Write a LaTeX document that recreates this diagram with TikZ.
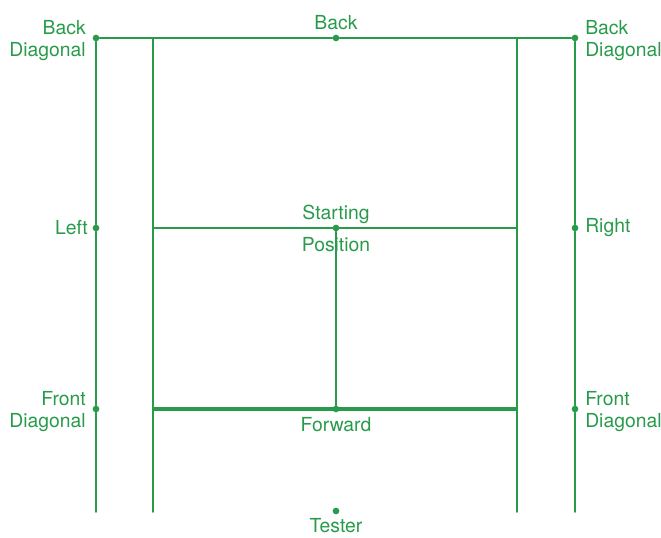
\documentclass[tikz,border=0pt]{standalone}
\usepackage{fontspec}
\setmainfont{TeX Gyre Heros}
\definecolor{fieldgreen}{RGB}{40,155,75}
\tikzset{
  spot/.style={circle, fill=fieldgreen, inner sep=0pt, minimum size=5pt},
  tag/.style={text=fieldgreen, font=\fontsize{14.5pt}{16.5pt}\selectfont, inner sep=0pt},
  lane/.style={draw=fieldgreen, line width=1.2pt},
}
\begin{document}
\begin{tikzpicture}[x=0.75pt, y=0.75pt, line cap=round, line join=round]
    \useasboundingbox (0,0) rectangle (661,537);
    % points on the lines
    \node[spot] (bdl) at (96,499) {};
    \node[spot] (bk)  at (336,499) {};
    \node[spot] (bdr) at (575,499) {};
    \node[spot] (lf)  at (96,309) {};
    \node[spot] (sp)  at (336,309) {};
    \node[spot] (rt)  at (575,309) {};
    \node[spot] (fdl) at (96,128) {};
    \node[spot] (fw)  at (336,128) {};
    \node[spot] (fdr) at (575,128) {};
    \node[spot] (ts)  at (336,26) {};
    \coordinate (ilt) at (153,499);  \coordinate (irt) at (517,499);
    \coordinate (ilm) at (153,309);  \coordinate (irm) at (517,309);
    \coordinate (ilf) at (153,128);  \coordinate (irf) at (517,128);
    \coordinate (olb) at (96,25);    \coordinate (orb) at (575,25);
    \coordinate (ilb) at (153,25);   \coordinate (irb) at (517,25);
    % lines
    \draw[lane] (bdl) -- (bk) -- (bdr);
    \draw[lane] (bdl) -- (lf) -- (fdl) -- (olb);
    \draw[lane] (bdr) -- (rt) -- (fdr) -- (orb);
    \draw[lane] (ilt) -- (ilb);
    \draw[lane] (irt) -- (irb);
    \draw[lane] (ilm) -- (sp) -- (irm);
    \draw[lane] (sp) -- (fw);
    \draw[lane, line width=2.3pt, line cap=butt] (ilf) -- (irf);
    % labels
    \node[tag, anchor=base] (bktxt) at (336,508) {Back};
    \node[tag, anchor=east, align=right] (bdltxt) at (86,496) {Back\\Diagonal};
    \node[tag, anchor=west, align=left] (bdrtxt) at (585,496) {Back\\Diagonal};
    \node[tag, anchor=east] (lftxt) at (88,309) {Left};
    \node[tag, anchor=west] (rttxt) at (585,309) {Right};
    \node[tag] (sttxt) at (336,323) {Starting};
    \node[tag] (potxt) at (336,292) {Position};
    \node[tag, anchor=east, align=right] (fdltxt) at (86,125) {Front\\Diagonal};
    \node[tag, anchor=west, align=left] (fdrtxt) at (585,125) {Front\\Diagonal};
    \node[tag] (fwtxt) at (336,112) {Forward};
    \node[tag] (tstxt) at (336,11) {Tester};
  \end{tikzpicture}
\end{document}
